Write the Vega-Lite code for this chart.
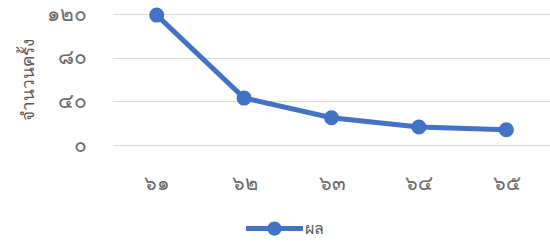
{
  "$schema": "https://vega.github.io/schema/vega-lite/v6.json",
  "autosize": "none",
  "width": 437,
  "height": 131,
  "padding": {"left": 113, "top": 14, "right": 0, "bottom": 101},
  "background": "white",
  "data": {"values": [
    {"year": "๖๑", "value": 119, "series": "ผล"},
    {"year": "๖๒", "value": 43, "series": "ผล"},
    {"year": "๖๓", "value": 25, "series": "ผล"},
    {"year": "๖๔", "value": 16.5, "series": "ผล"},
    {"year": "๖๕", "value": 14, "series": "ผล"}
  ]},
  "config": {
    "view": {"stroke": null},
    "font": "Noto Sans",
    "axis": {"labelFont": "Noto Sans", "titleFont": "Noto Sans"}
  },
  "mark": {"type": "line", "strokeWidth": 5, "color": "#4472C4", "point": {"size": 170, "filled": true, "color": "#4472C4", "opacity": 1}},
  "encoding": {
    "x": {"field": "year", "type": "ordinal", "sort": null,
      "scale": {"paddingOuter": 0.5, "paddingInner": 0},
      "axis": {"title": null, "labelAngle": 0, "domain": false, "ticks": false, "labelPadding": 28, "labelFontSize": 20, "labelColor": "#6b6b6b", "grid": false}},
    "y": {"field": "value", "type": "quantitative",
      "scale": {"domain": [0, 120], "nice": false},
      "axis": {"values": [0, 40, 80, 120], "title": "จำนวนครั้ง", "titleFontSize": 17, "titleFontWeight": "normal", "titleColor": "#595959", "titlePadding": 9,
        "labelExpr": "datum.value == 0 ? '๐' : datum.value == 40 ? '๔๐' : datum.value == 80 ? '๘๐' : '๑๒๐'",
        "labelFontSize": 21, "labelColor": "#6b6b6b", "labelPadding": 27, "domain": false, "ticks": false,
        "gridColor": "#d9d9d9", "gridWidth": 1.2}},
    "stroke": {"field": "series", "type": "nominal",
      "scale": {"range": ["#4472C4"]},
      "legend": {"title": null, "orient": "none", "legendX": 133, "legendY": 186,
        "symbolType": "M-1,-0.09 H1 V0.09 H-1 Z M-0.25,0 A0.25,0.25 0 1,1 0.25,0 A0.25,0.25 0 1,1 -0.25,0 Z",
        "symbolSize": 3249, "symbolFillColor": "#4472C4", "symbolStrokeWidth": 0, "symbolOpacity": 1,
        "labelFontSize": 16, "labelColor": "#595959", "labelOffset": 2}}
  }
}
